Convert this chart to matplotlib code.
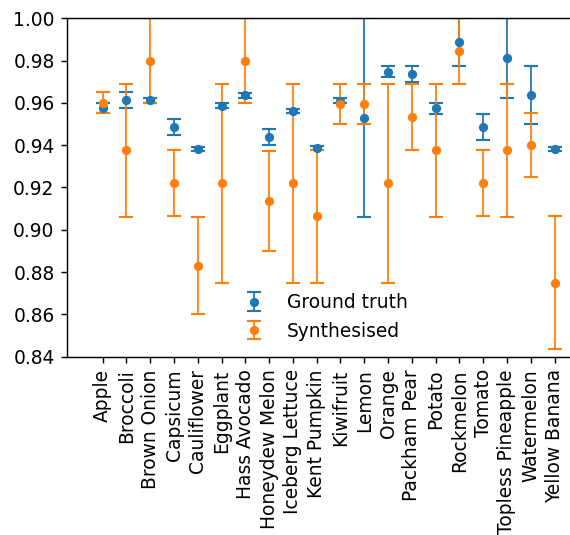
#! /usr/bin/python
# -*- encode: utf-8 -*-

"""Ground truth vs synthesised scores per produce class, with error bars."""

import matplotlib
matplotlib.use('Agg')
import matplotlib.pyplot as plt


Categories = [
    'Apple', 'Broccoli', 'Brown Onion', 'Capsicum', 'Cauliflower',
    'Eggplant', 'Hass Avocado', 'Honeydew Melon', 'Iceberg Lettuce',
    'Kent Pumpkin', 'Kiwifruit', 'Lemon', 'Orange', 'Packham Pear',
    'Potato', 'Rockmelon', 'Tomato', 'Topless Pineapple', 'Watermelon',
    'Yellow Banana',
]

GroundTruthMean = [
    0.9574, 0.9612, 0.9612, 0.9486, 0.9383,
    0.9587, 0.9636, 0.9437, 0.9562,
    0.9388, 0.9610, 0.9530, 0.9748, 0.9737,
    0.9574, 0.9887, 0.9486, 0.9811, 0.9636,
    0.9383,
]
GroundTruthErr = [
    0.0024, 0.0038, 0.0013, 0.0038, 0.0009,
    0.0012, 0.0013, 0.0038, 0.0011,
    0.0010, 0.0012, 0.0470, 0.0025, 0.0038,
    0.0025, 0.0113, 0.0063, 0.0189, 0.0137,
    0.0009,
]

SynthMean = [
    0.9600, 0.9375, 0.9800, 0.9219, 0.8830,
    0.9219, 0.9800, 0.9135, 0.9219,
    0.9063, 0.9594, 0.9594, 0.9219, 0.9531,
    0.9375, 0.9844, 0.9219, 0.9375, 0.9400,
    0.8750,
]
SynthErr = [
    0.0050, 0.0313, 0.0200, 0.0156, 0.0230,
    0.0469, 0.0200, 0.0237, 0.0469,
    0.0313, 0.0094, 0.0094, 0.0469, 0.0156,
    0.0313, 0.0156, 0.0156, 0.0313, 0.0150,
    0.0313,
]

YTicks = [0.84, 0.86, 0.88, 0.90, 0.92, 0.94, 0.96, 0.98, 1.00]

Dpi = 128
FigW, FigH = 570, 535


def plot_data():
    fig = plt.figure(figsize=(FigW / Dpi, FigH / Dpi), dpi=Dpi)

    # axes run past the right edge of the picture, like the cropped original
    ax = fig.add_axes([0.1175, 0.3333, 0.918, 0.6325])

    xs = list(range(len(Categories)))

    ax.errorbar(xs, GroundTruthMean, yerr=GroundTruthErr, fmt='o',
                color='#1f77b4', markersize=4.2, capsize=4.2,
                elinewidth=1.0, capthick=1.2, label='Ground truth')
    ax.errorbar(xs, SynthMean, yerr=SynthErr, fmt='o',
                color='#ff7f0e', markersize=4.2, capsize=4.2,
                elinewidth=1.0, capthick=1.2, label='Synthesised')

    ax.set_xlim(-1.5, 20.5)
    ax.set_ylim(0.84, 1.00)
    ax.set_yticks(YTicks)
    ax.set_yticklabels(['{:.2f}'.format(t) for t in YTicks])

    ax.set_xticks(xs)
    ax.set_xticklabels(Categories, rotation=90)

    ax.legend(loc='center', bbox_to_anchor=(0.564, 0.4075),
              bbox_transform=fig.transFigure, frameon=False)

    fig.savefig('out.png', dpi=Dpi)
    plt.close(fig)


def main():
    plt.rcParams['font.size'] = 10.5
    plot_data()


if __name__ == '__main__':
    main()
